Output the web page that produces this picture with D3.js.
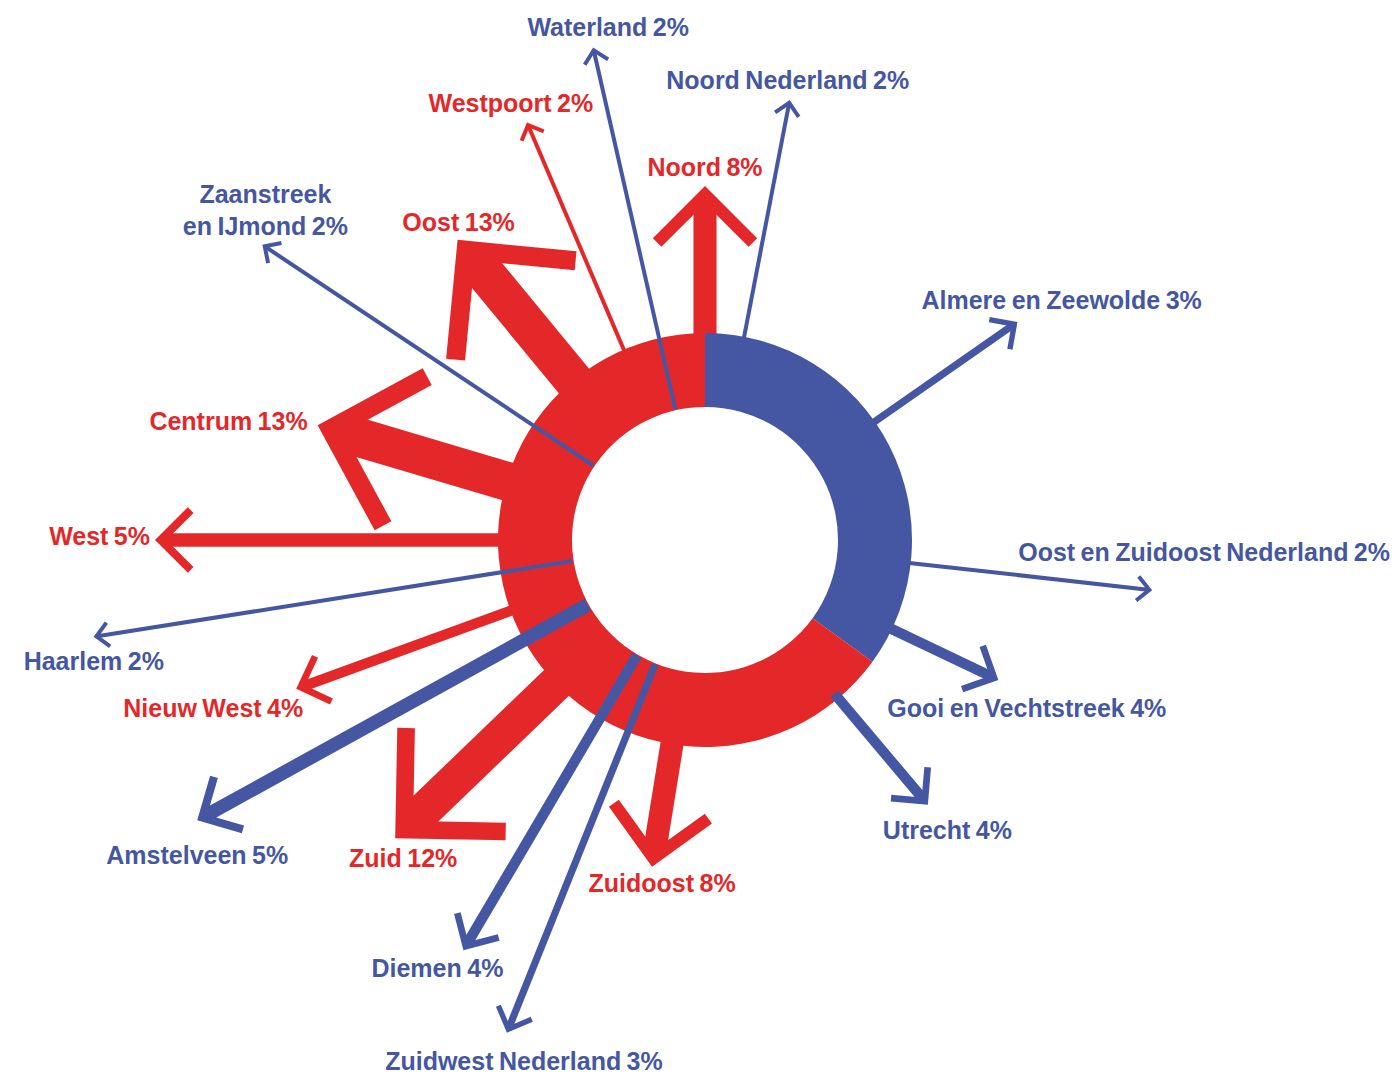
<!DOCTYPE html>
<html>
<head>
<meta charset="utf-8">
<script src="https://cdn.jsdelivr.net/npm/d3@7"></script>
<style>
    body { margin: 0; background: #fff; }
    text { font-family: "Liberation Sans", Arial, sans-serif; font-weight: bold; font-size: 25px; word-spacing: -1.5px; }
</style>
</head>
<body>
<svg id="chart"></svg>
<script>
"use strict"

// Data: share of moves per destination, clockwise from north
var names = ["Noord", "Noord Nederland", "Almere en Zeewolde", "Oost en Zuidoost Nederland",
    "Gooi en Vechtstreek", "Utrecht", "Zuidoost", "Zuidwest Nederland", "Diemen", "Zuid",
    "Amstelveen", "Nieuw West", "Haarlem", "West", "Centrum", "Zaanstreek\nen IJmond",
    "Oost", "Westpoort", "Waterland"]
var shares = [8, 2, 3, 2, 4, 4, 8, 3, 4, 12, 5, 4, 2, 5, 13, 2, 13, 2, 2]
var areas = ["Amsterdam", "Regio", "Regio", "Regio", "Regio", "Regio", "Amsterdam", "Regio", "Regio",
    "Amsterdam", "Regio", "Amsterdam", "Regio", "Amsterdam", "Amsterdam", "Regio",
    "Amsterdam", "Amsterdam", "Regio"]

// Ring: region vs Amsterdam
var ringLabels = ["Regio", "Amsterdam"]
var ringValues = [35, 65]

// Layout (kept apart from the data): direction in degrees, arrow tip radius, start on inner edge?
var angles = [0, 10.9, 55.1, 96.4, 115.5, 139.9, 189.2, 201.9, 210.5, 226.1, 241.1, 250, 261, 270, 286.5, 303.7, 320.5, 336.9, 347.2]
var tipRadius = [354, 448, 381, 450, 325, 346, 331, 531, 476, 430, 580, 435, 619, 550, 404, 532, 389, 454, 505]
var startInner = [false, false, false, false, false, false, false, true, true, false, true, false, true, false, false, true, false, false, true]
// label offsets from the arrow tip: [dx, dy, anchor]
var labelPos = [
    [0, -19, "middle"], [-2, -20, "middle"], [-96, -22, "start"], [-134, -38, "start"],
    [-111, 28, "start"], [-45, 25, "start"], [10, 16, "middle"], [17, 28, "middle"],
    [-26, 18, "middle"], [8, 20, "middle"], [0, 35, "middle"], [7, 19, "end"],
    [-70, 24, "start"], [-5, -4, "end"], [-10, -4, "end"], [3, -51, "middle"],
    [1, -18, "middle"], [-16, -19, "middle"], [15, -21, "middle"]
]

var width = 1395
var height = 1075
var center = [705, 540]
var innerR = 133
var outerR = 207

var color = d3.scaleOrdinal().domain(["Regio", "Amsterdam"]).range(["#4557a3", "#e4282a"])
var shaftWidth = d3.scaleLinear().domain([2, 13]).range([4, 39])
var headWidth = d3.scaleLinear().domain([2, 13]).range([4, 19])
var headLength = d3.scaleLinear().domain([2, 13]).range([17, 110])

var data = names.map(function (n, i) {
    return {
        name: n, value: shares[i], area: areas[i],
        angle: angles[i] * Math.PI / 180, tip: tipRadius[i], inner: startInner[i],
        label: labelPos[i]
    }
})

var svg = d3.select("#chart").attr("width", width).attr("height", height)
var g = svg.append("g").attr("transform", "translate(" + center[0] + "," + center[1] + ")")

var gRed = g.append("g")
var gRing = g.append("g")
var gBlue = g.append("g")

// Ring
var pie = d3.pie().sort(null).value(function (d) { return d })
var arc = d3.arc().innerRadius(innerR).outerRadius(outerR)
gRing.selectAll("path").data(pie(ringValues)).enter().append("path")
    .attr("d", arc)
    .attr("fill", function (d, i) { return color(ringLabels[i]) })

// Arrows: a straight shaft plus an open chevron head
function drawArrow(sel, d) {
    var w = shaftWidth(d.value)
    var t = headWidth(d.value)
    var L = headLength(d.value)
    var r0 = d.inner ? innerR + 1 : outerR - 6
    var shaftEnd = d.tip - w / 2
    var vertexR = d.tip - t * Math.SQRT1_2
    var vtx = d3.pointRadial(d.angle, vertexR)
    var back = vertexR - L * Math.SQRT1_2
    var side = L * Math.SQRT1_2
    // arm ends: step back along the axis and sideways
    var ux = Math.sin(d.angle), uy = -Math.cos(d.angle)
    var px = -uy, py = ux
    var b = d3.pointRadial(d.angle, back)
    var a1 = [b[0] + px * side, b[1] + py * side]
    var a2 = [b[0] - px * side, b[1] - py * side]
    var c = color(d.area)

    sel.append("path")
        .attr("d", d3.line()([d3.pointRadial(d.angle, r0), d3.pointRadial(d.angle, shaftEnd)]))
        .attr("stroke", c).attr("stroke-width", w).attr("fill", "none")
    sel.append("path")
        .attr("d", d3.line()([a1, vtx, a2]))
        .attr("stroke", c).attr("stroke-width", t).attr("fill", "none")
        .attr("stroke-linejoin", "miter").attr("stroke-linecap", "butt")
}

data.forEach(function (d) {
    drawArrow(d.area === "Amsterdam" ? gRed.append("g") : gBlue.append("g"), d)
})

// Labels
var labels = g.append("g")
data.forEach(function (d) {
    var p = d3.pointRadial(d.angle, d.tip)
    var lines = (d.name + " " + d.value + "%").split("\n")
    var txt = labels.append("text")
        .attr("text-anchor", d.label[2])
        .attr("fill", color(d.area))
    lines.forEach(function (line, j) {
        txt.append("tspan")
            .attr("x", p[0] + d.label[0])
            .attr("y", p[1] + d.label[1] + j * 32)
            .attr("dy", "0.36em")
            .text(line)
    })
})
</script>
</body>
</html>
